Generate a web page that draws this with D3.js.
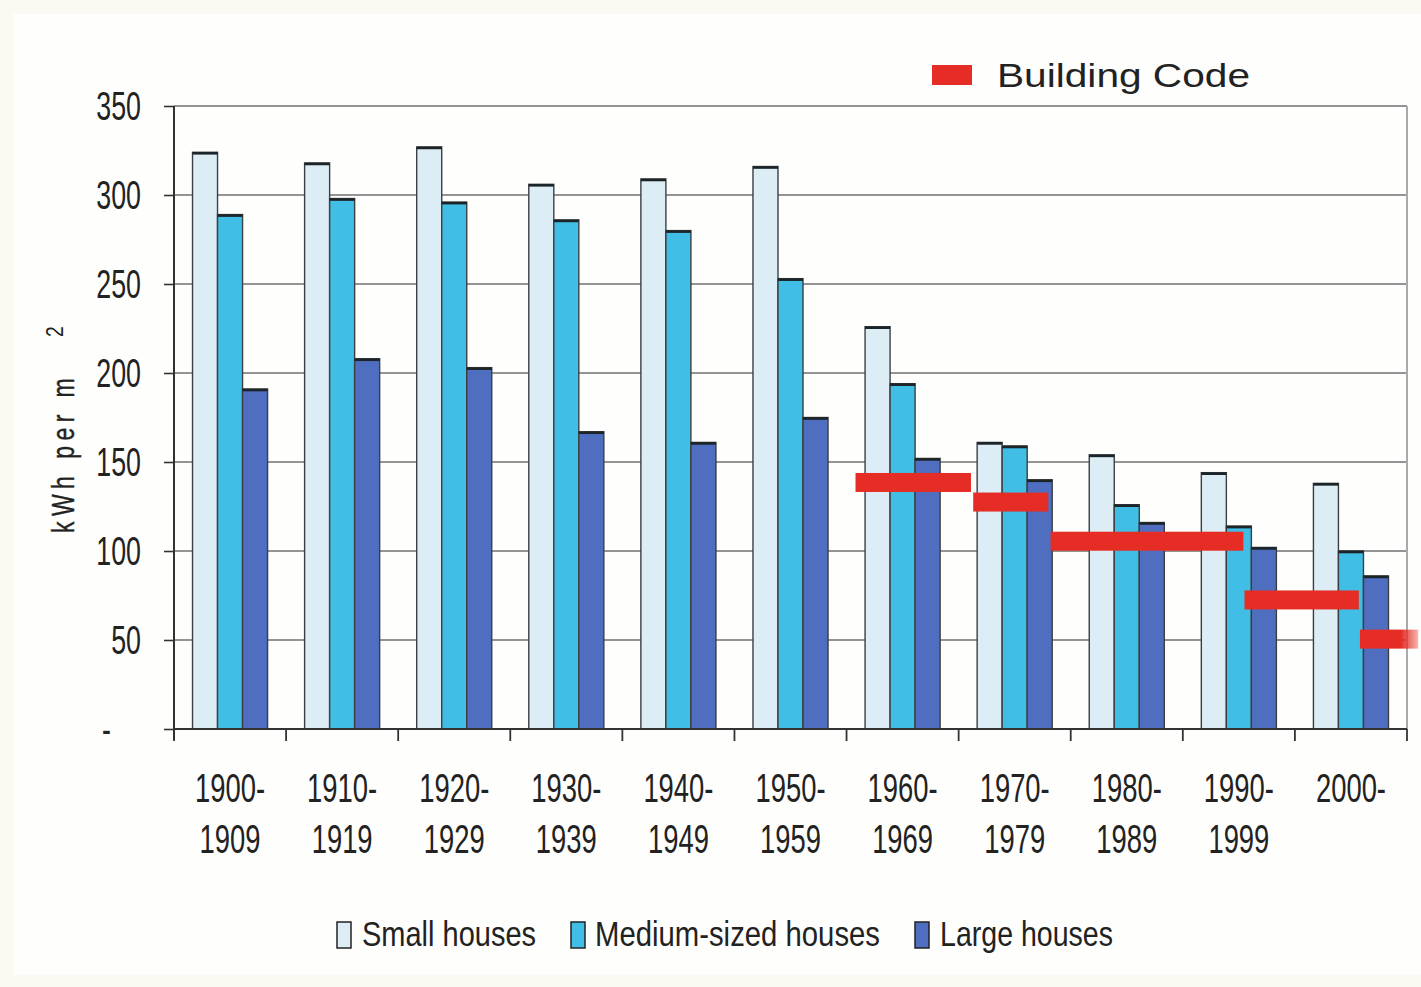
<!DOCTYPE html>
<html>
<head>
<meta charset="utf-8">
<script src="https://cdn.jsdelivr.net/npm/d3@7"></script>
<style>
  body { margin: 0; background: #fbfaf2; }
  svg { display: block; font-family: "Liberation Sans", Arial, sans-serif; }
</style>
</head>
<body>
<div id="chart"></div>
<script>
// data
const categories = ["1900-1909", "1910-1919", "1920-1929", "1930-1939", "1940-1949", "1950-1959",
                    "1960-1969", "1970-1979", "1980-1989", "1990-1999", "2000-"];
const labelTop = ["1900-", "1910-", "1920-", "1930-", "1940-", "1950-", "1960-", "1970-", "1980-", "1990-", "2000-"];
const labelBottom = ["1909", "1919", "1929", "1939", "1949", "1959", "1969", "1979", "1989", "1999", ""];

const smallHouses = [324, 318, 327, 306, 309, 316, 226, 161, 154, 144, 138];
const mediumHouses = [289, 298, 296, 286, 280, 253, 194, 159, 126, 114, 100];
const largeHouses = [191, 208, 203, 167, 161, 175, 152, 140, 116, 102, 86];

// building code levels, drawn over a year axis
const codeFrom = [1960.8, 1971.3, 1978.2, 1995.5, 2005.8];
const codeTo = [1971.1, 1978.0, 1995.4, 2005.7, 2011.0];
const codeValue = [138.5, 127.5, 105.5, 72.5, 50.5];

const yTicks = [0, 50, 100, 150, 200, 250, 300, 350];
const seriesNames = ["Small houses", "Medium-sized houses", "Large houses"];
const seriesColors = ["#dcedf5", "#40bee6", "#4f6ebf"];
const codeColor = "#e62d25";

const W = 1421, H = 987;
const plotLeft = 174, plotRight = 1407, plotTop = 106, plotBottom = 729;

const svg = d3.select("#chart").append("svg")
    .attr("width", W)
    .attr("height", H);

const defs = svg.append("defs");
const fade = defs.append("linearGradient").attr("id", "fade");
fade.append("stop").attr("offset", "0%").attr("stop-color", codeColor);
fade.append("stop").attr("offset", "70%").attr("stop-color", codeColor);
fade.append("stop").attr("offset", "100%").attr("stop-color", codeColor).attr("stop-opacity", 0.35);

// background panel
svg.append("rect").attr("width", W).attr("height", H).attr("fill", "#fbfaf2");
svg.append("rect")
    .attr("x", 13).attr("y", 14)
    .attr("width", W - 13).attr("height", 961)
    .attr("fill", "#fefefd");

const x0 = d3.scaleBand().domain(categories).range([plotLeft, plotRight]).paddingInner(0).paddingOuter(0);
const x1 = d3.scaleBand().domain(seriesNames).range([0, x0.bandwidth()]).paddingInner(0).paddingOuter(0.74);
const xYear = d3.scaleLinear().domain([1900, 2010]).range([plotLeft, plotRight]);
const y = d3.scaleLinear().domain([0, 350]).range([plotBottom, plotTop]);

// gridlines
svg.append("g")
    .selectAll("line")
    .data(yTicks.filter(d => d > 0))
    .enter().append("line")
    .attr("x1", plotLeft).attr("x2", plotRight)
    .attr("y1", d => y(d)).attr("y2", d => y(d))
    .attr("stroke", "#707070")
    .attr("stroke-width", 1.6);

// right border of plot area
svg.append("line")
    .attr("x1", plotRight).attr("x2", plotRight)
    .attr("y1", plotTop).attr("y2", plotBottom)
    .attr("stroke", "#aaa")
    .attr("stroke-width", 2);

// bars
const series = [smallHouses, mediumHouses, largeHouses];
const barsG = svg.append("g");
series.forEach((values, si) => {
    const g = barsG.append("g");
    g.selectAll("rect")
        .data(values)
        .enter().append("rect")
        .attr("x", (d, i) => x0(categories[i]) + x1(seriesNames[si]))
        .attr("y", d => y(d))
        .attr("width", x1.bandwidth())
        .attr("height", d => y(0) - y(d))
        .attr("fill", seriesColors[si])
        .attr("stroke", "#3b3f42")
        .attr("stroke-width", 1.4);
    g.selectAll("line")
        .data(values)
        .enter().append("line")
        .attr("x1", (d, i) => x0(categories[i]) + x1(seriesNames[si]))
        .attr("x2", (d, i) => x0(categories[i]) + x1(seriesNames[si]) + x1.bandwidth())
        .attr("y1", d => y(d) + 1)
        .attr("y2", d => y(d) + 1)
        .attr("stroke", "#1b2428")
        .attr("stroke-width", 2.6);
});

// axes
const yAxis = svg.append("g")
    .attr("transform", `translate(${plotLeft},0)`)
    .call(d3.axisLeft(y).tickValues(yTicks).tickSize(10).tickFormat(""));
yAxis.select(".domain").remove();
yAxis.selectAll(".tick line").attr("stroke", "#333").attr("stroke-width", 1.6);
svg.append("line")
    .attr("x1", plotLeft).attr("x2", plotLeft)
    .attr("y1", plotTop).attr("y2", plotBottom + 11)
    .attr("stroke", "#333").attr("stroke-width", 2);

svg.append("line")
    .attr("x1", plotLeft).attr("x2", plotRight)
    .attr("y1", plotBottom).attr("y2", plotBottom)
    .attr("stroke", "#333").attr("stroke-width", 2);
svg.append("g")
    .selectAll("line")
    .data(categories.map(c => x0(c)).concat([plotRight]))
    .enter().append("line")
    .attr("x1", d => d).attr("x2", d => d)
    .attr("y1", plotBottom).attr("y2", plotBottom + 12)
    .attr("stroke", "#333").attr("stroke-width", 1.8);

// y tick labels (condensed)
const ylab = svg.append("g");
yTicks.forEach(t => {
    const g = ylab.append("g")
        .attr("transform", `translate(${t === 0 ? 111 : 141},${y(t)}) scale(0.67,1)`);
    g.append("text")
        .attr("text-anchor", "end")
        .attr("dy", "0.35em")
        .attr("font-size", 40)
        .attr("fill", "#222")
        .text(t === 0 ? "-" : t);
});

// x tick labels
const xlab = svg.append("g");
categories.forEach((c, i) => {
    const cx = x0(c) + x0.bandwidth() / 2;
    [[labelTop[i], 802], [labelBottom[i], 853]].forEach(([txt, by]) => {
        if (!txt) return;
        xlab.append("g")
            .attr("transform", `translate(${cx},${by}) scale(0.685,1)`)
            .append("text")
            .attr("text-anchor", "middle")
            .attr("font-size", 40)
            .attr("fill", "#222")
            .text(txt);
    });
});

// y axis title
const yt = svg.append("g").attr("transform", "translate(74,533) rotate(-90) scale(0.72,1)");
yt.append("text")
    .attr("font-size", 32)
    .attr("fill", "#222")
    .attr("stroke", "#222")
    .attr("stroke-width", 0.4)
    .attr("textLength", 215)
    .attr("lengthAdjust", "spacing")
    .text("kWh per m");
svg.append("g").attr("transform", "translate(63,337) rotate(-90) scale(0.8,1)")
    .append("text")
    .attr("font-size", 24)
    .attr("fill", "#222")
    .text("2");

// building code segments
svg.append("g")
    .selectAll("rect")
    .data(codeValue)
    .enter().append("rect")
    .attr("x", (d, i) => xYear(codeFrom[i]))
    .attr("width", (d, i) => xYear(codeTo[i]) - xYear(codeFrom[i]))
    .attr("y", d => y(d) - 9.5)
    .attr("height", 19)
    .attr("fill", (d, i) => i === codeValue.length - 1 ? "url(#fade)" : codeColor);

// top legend
svg.append("rect")
    .attr("x", 932).attr("y", 65)
    .attr("width", 40).attr("height", 20)
    .attr("fill", codeColor);
svg.append("text")
    .attr("x", 997).attr("y", 87)
    .attr("font-size", 34)
    .attr("fill", "#222")
    .attr("textLength", 253)
    .attr("lengthAdjust", "spacingAndGlyphs")
    .text("Building Code");

// bottom legend
const legendX = [337, 571, 915];
const legendTextX = [362, 595, 940];
const legendTextW = [174, 285, 173];
const leg = svg.append("g");
seriesNames.forEach((name, i) => {
    leg.append("rect")
        .attr("x", legendX[i]).attr("y", 922)
        .attr("width", 14).attr("height", 26)
        .attr("fill", seriesColors[i])
        .attr("stroke", "#222")
        .attr("stroke-width", 1.5);
    leg.append("text")
        .attr("x", legendTextX[i]).attr("y", 946)
        .attr("font-size", 35)
        .attr("fill", "#222")
        .attr("textLength", legendTextW[i])
        .attr("lengthAdjust", "spacingAndGlyphs")
        .text(name);
});
</script>
</body>
</html>
